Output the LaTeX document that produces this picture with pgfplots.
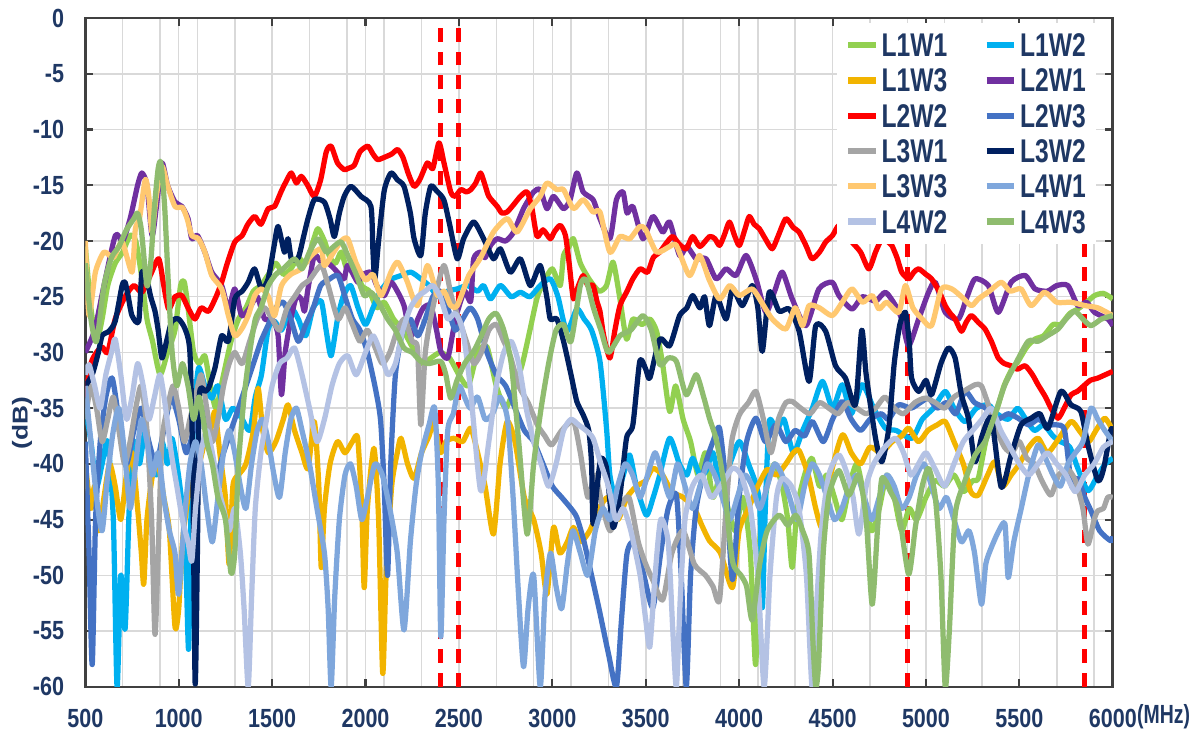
\documentclass[border=0pt]{standalone}
\usepackage{pgfplots}
\pgfplotsset{compat=1.18}
\usepackage{fontspec}
\setmainfont{Liberation Sans}

\definecolor{cLaWa}{HTML}{92D050}
\definecolor{cLaWb}{HTML}{00B0F0}
\definecolor{cLaWc}{HTML}{F2B400}
\definecolor{cLbWa}{HTML}{7030A0}
\definecolor{cLbWb}{HTML}{FF0000}
\definecolor{cLbWc}{HTML}{4472C4}
\definecolor{cLcWa}{HTML}{A5A5A5}
\definecolor{cLcWb}{HTML}{002060}
\definecolor{cLcWc}{HTML}{FFC870}
\definecolor{cLdWa}{HTML}{7FA7DC}
\definecolor{cLdWb}{HTML}{B4C2E4}
\definecolor{cLdWc}{HTML}{8FBC6F}
\definecolor{labc}{HTML}{1F3864}
\definecolor{gridc}{HTML}{D9D9D9}
\definecolor{axc}{HTML}{404040}

\begin{document}
\begin{tikzpicture}
\begin{axis}[
  width=13.75cm, height=8.95cm, scale only axis,
  xmin=500, xmax=6000, ymin=-60, ymax=0,
  xtick={500,1000,...,6000}, minor xtick={700,900,...,5900},
  ytick={-60,-55,...,0},
  grid=both,
  major grid style={draw=gridc, line width=0.6pt},
  minor grid style={draw=gridc, line width=0.6pt},
  axis line style={draw=axc, line width=1pt},
  tick align=inside, major tick length=0.1cm, minor tick length=0pt,
  tick style={draw=axc, line width=0.8pt},
  /pgf/number format/1000 sep={},
  /pgf/number format/assume math mode=true,
  ticklabel style={font=\bfseries\fontsize{10}{11}\selectfont, text=labc},
  xticklabel={\scalebox{0.82}[1]{\pgfmathprintnumber{\tick}}},
  yticklabel={\scalebox{0.82}[1]{\pgfmathprintnumber{\tick}}},
  yticklabel style={xshift=-0.16cm},
  xticklabel style={yshift=-0.18cm},
  xlabel={\scalebox{0.74}[1]{(MHz)}},
  xlabel style={at={(axis description cs:1.0125,-0.044)}, anchor=west, inner xsep=0.147cm, inner ysep=0pt, font=\bfseries\fontsize{10}{11}\selectfont, text=labc},
  ylabel={\scalebox{1}[0.82]{(dB)}},
  ylabel style={at={(axis description cs:-0.0397,0.394)}, anchor=south, inner ysep=0.16cm, inner xsep=0pt, font=\bfseries\fontsize{10}{11}\selectfont, text=labc},
  legend columns=2,
  legend cell align=left,
  legend style={at={(axis description cs:0.9845,0.993)}, anchor=north east, draw=none, fill=white,
    font=\bfseries\fontsize{12.5}{13}\selectfont, text=labc, inner sep=3pt,
    nodes={inner sep=1pt, text depth=0pt}, row sep=0.095cm,
    /tikz/every even column/.append style={column sep=0.45cm}},
  legend image code/.code={\draw[#1, line width=2.4pt, sharp plot] (0cm,0cm) -- (0.37cm,0cm);},
  every axis plot/.append style={line width=2pt, line join=round, smooth, tension=0.4},
]

% band markers
\addplot[forget plot, sharp plot, red, line width=1.9pt, dash pattern=on 5.3pt off 3.8pt] coordinates {(2400,-60) (2400,0)};
\addplot[forget plot, sharp plot, red, line width=1.9pt, dash pattern=on 5.3pt off 3.8pt] coordinates {(2500,-60) (2500,0)};
\addplot[forget plot, sharp plot, red, line width=1.9pt, dash pattern=on 5.3pt off 3.8pt] coordinates {(4900,-60) (4900,0)};
\addplot[forget plot, sharp plot, red, line width=1.9pt, dash pattern=on 5.3pt off 3.8pt] coordinates {(5850,-60) (5850,0)};

% L1W1
\addplot[cLaWa] coordinates {(500,-20.5) (530,-26) (560,-29) (590,-27) (620,-24) (660,-22) (700,-21) (740,-19.5) (770,-20) (800,-23) (830,-27) (860,-29) (900,-32) (940,-30) (980,-28) (1010,-24) (1030,-23.7) (1050,-26) (1080,-30) (1110,-31) (1140,-30.3) (1170,-33) (1200,-35) (1240,-32) (1280,-29) (1320,-27) (1360,-26) (1400,-24.5) (1440,-24) (1480,-23) (1520,-22) (1560,-23) (1600,-22.5) (1640,-21.5) (1680,-22) (1720,-20) (1745,-18.9) (1780,-20) (1810,-21.5) (1840,-22) (1870,-21) (1900,-22.5) (1940,-22) (1980,-24) (2020,-24.5) (2060,-26) (2100,-25.5) (2150,-27) (2200,-28) (2250,-29.5) (2300,-31) (2350,-30.5) (2400,-30) (2450,-30.5) (2500,-32) (2550,-33) (2600,-30) (2650,-29.5) (2700,-33) (2750,-35) (2800,-33) (2840,-31) (2880,-28) (2920,-25) (2960,-23.5) (3000,-22.5) (3042,-24) (3060,-21.3) (3090,-20.5) (3113,-19.8) (3150,-22) (3200,-23.5) (3250,-24.5) (3290,-24) (3325,-21.9) (3360,-25) (3397,-28.8) (3431,-27) (3480,-27.5) (3522,-27) (3558,-28.1) (3590,-31) (3628,-35.3) (3660,-33) (3700,-36) (3740,-38) (3780,-41) (3820,-39) (3860,-43) (3900,-41) (3940,-44) (3980,-46) (4020,-43) (4060,-48) (4088,-58) (4110,-47) (4150,-42) (4190,-40) (4230,-42) (4260,-45) (4284,-49.3) (4310,-44) (4350,-41) (4390,-39.5) (4430,-42) (4470,-41) (4510,-43) (4550,-45) (4590,-42) (4630,-40) (4670,-43) (4710,-46) (4750,-44) (4790,-41) (4830,-43) (4870,-46) (4910,-44) (4950,-45) (5000,-43) (5050,-41.5) (5100,-42) (5150,-41) (5200,-42.5) (5250,-41.5) (5280,-41.3) (5320,-38) (5360,-36) (5387,-34.7) (5420,-32.9) (5460,-31.5) (5493,-30.8) (5540,-29.5) (5584,-28.8) (5630,-28.5) (5680,-27.5) (5720,-27.5) (5770,-26.5) (5813,-26.1) (5860,-25.5) (5902,-24.9) (5950,-24.7) (6000,-25.2)};
\addlegendentry{\scalebox{0.75}[1]{L1W1}}

% L1W2
\addplot[cLaWb] coordinates {(500,-35) (530,-38) (560,-42) (590,-40) (620,-38) (650,-45) (670,-60) (690,-50) (713,-54.8) (735,-44) (760,-38) (790,-40) (820,-37) (850,-39) (880,-41) (910,-38) (940,-40) (963,-37.7) (990,-40) (1020,-44) (1040,-50) (1053,-56.6) (1065,-45) (1080,-36) (1106,-31.4) (1140,-33) (1177,-34.1) (1210,-33) (1250,-36) (1290,-35) (1337,-35.9) (1380,-37) (1410,-34) (1443,-32) (1479,-27.9) (1513,-27.2) (1550,-28) (1603,-26.1) (1640,-27) (1680,-28.5) (1720,-26) (1763,-25.4) (1790,-28.1) (1816,-30.3) (1850,-27) (1880,-25) (1920,-24) (1960,-26) (2000,-27.5) (2040,-26) (2080,-24.5) (2130,-23.5) (2190,-23.1) (2243,-22.8) (2296,-23.4) (2340,-24) (2390,-25) (2440,-24.5) (2491,-24.3) (2545,-24) (2600,-24.5) (2632,-24) (2669,-25.2) (2722,-24) (2780,-25) (2829,-24.6) (2880,-25) (2935,-24) (2989,-23.4) (3030,-25) (3077,-28.1) (3131,-26.1) (3170,-27) (3210,-28) (3255,-30.8) (3290,-36.8) (3308,-41) (3340,-43) (3380,-41) (3414,-39.2) (3450,-42) (3503,-44.6) (3540,-43) (3575,-41) (3628,-37.7) (3680,-40) (3720,-41) (3751,-39.5) (3790,-41) (3824,-40.6) (3860,-39) (3900,-42) (3950,-40) (4001,-38) (4050,-40) (4108,-43.3) (4124,-52.9) (4140,-44) (4161,-36.2) (4200,-37) (4240,-36) (4290,-39) (4340,-37) (4392,-35) (4446,-32.6) (4500,-35) (4552,-32.9) (4600,-35.5) (4659,-32.9) (4720,-35) (4783,-36.8) (4840,-37) (4925,-37.7) (4980,-36) (5040,-35) (5103,-33.5) (5150,-35) (5209,-36.2) (5270,-35) (5334,-34.7) (5380,-35.5) (5440,-36) (5490,-35) (5531,-35.9) (5580,-37) (5630,-36.5) (5680,-37.5) (5720,-38) (5770,-38.5) (5813,-40.4) (5867,-42.4) (5920,-41) (5960,-40) (6000,-39.5)};
\addlegendentry{\scalebox{0.75}[1]{L1W2}}

% L1W3
\addplot[cLaWc] coordinates {(500,-40) (530,-44) (550,-42) (573,-46) (600,-43) (630,-40) (660,-42) (690,-45) (720,-41) (750,-39) (780,-44) (800,-48) (813,-50.8) (830,-45) (860,-41) (890,-40) (920,-43) (950,-46) (980,-54.6) (1000,-53) (1020,-47) (1050,-43) (1080,-41) (1110,-40) (1140,-38) (1170,-37) (1194,-35.3) (1220,-39) (1250,-43) (1270,-49) (1290,-42) (1320,-41) (1360,-40) (1400,-37) (1425,-33.2) (1450,-37) (1480,-39) (1520,-38) (1560,-36) (1585,-34.7) (1620,-37) (1660,-39) (1692,-40.4) (1726,-36.2) (1750,-42) (1763,-49.3) (1780,-44) (1810,-40) (1850,-38) (1890,-39) (1930,-38) (1958,-37.7) (1980,-44) (1993,-51.1) (2010,-44) (2045,-38.6) (2070,-45) (2092,-58.8) (2110,-50) (2140,-42) (2170,-39) (2190,-37.7) (2225,-40) (2260,-41.3) (2300,-39) (2340,-37.5) (2367,-36.2) (2400,-39) (2430,-38) (2472,-37.7) (2520,-38) (2563,-36.8) (2600,-39) (2640,-42) (2685,-46.3) (2720,-40) (2758,-36.2) (2800,-38) (2850,-43) (2900,-45) (2940,-48) (2971,-51.7) (3006,-45.7) (3040,-48) (3080,-47) (3113,-45.7) (3150,-47) (3200,-46) (3250,-44) (3300,-43) (3350,-45) (3400,-43) (3450,-42) (3500,-41.5) (3538,-40.4) (3590,-41) (3640,-42.5) (3700,-43) (3760,-44) (3800,-45.5) (3841,-46.9) (3900,-48) (3964,-51.1) (4000,-46) (4050,-44) (4100,-42) (4150,-40.5) (4200,-41) (4250,-40) (4290,-39) (4321,-38.8) (4370,-41) (4410,-44) (4446,-45.7) (4490,-41) (4552,-37.4) (4600,-39) (4650,-40) (4700,-38.5) (4760,-39) (4820,-38) (4870,-37.5) (4907,-36.8) (4960,-38) (5010,-37) (5060,-36.5) (5103,-36.2) (5150,-38) (5200,-40) (5240,-42.5) (5280,-42.8) (5330,-41) (5369,-39.8) (5410,-42) (5456,-41) (5500,-40) (5550,-38.5) (5600,-37.7) (5650,-39) (5700,-38) (5776,-36.2) (5820,-37) (5870,-38) (5910,-37) (5957,-35.9) (6000,-37)};
\addlegendentry{\scalebox{0.75}[1]{L1W3}}

% L2W1
\addplot[cLbWa] coordinates {(500,-30) (550,-28) (600,-24) (661,-19.5) (700,-20) (740,-18) (780,-15) (803,-13.9) (830,-15) (857,-19.5) (880,-17) (910,-13) (940,-15) (980,-16.5) (1017,-16.9) (1050,-18) (1070,-19.8) (1100,-19.5) (1140,-21) (1177,-22.8) (1230,-24) (1266,-26.1) (1300,-24.3) (1337,-26.7) (1380,-26) (1420,-25) (1460,-27) (1500,-27) (1532,-28.5) (1550,-33.8) (1570,-30) (1600,-27) (1630,-25) (1656,-25.2) (1673,-26.3) (1692,-24.3) (1726,-21.3) (1763,-21.9) (1800,-22) (1833,-22.5) (1860,-23) (1886,-23.4) (1905,-22.2) (1958,-23.7) (1976,-23.1) (2029,-22.8) (2060,-24) (2100,-24.9) (2136,-23.7) (2170,-24.5) (2206,-25.8) (2243,-28.5) (2280,-27) (2310,-26) (2349,-25.8) (2380,-28) (2403,-29.9) (2440,-30.5) (2470,-28) (2491,-26.4) (2530,-24.5) (2563,-25.4) (2579,-21.6) (2616,-21) (2640,-21.5) (2669,-20.4) (2705,-19.8) (2750,-20) (2793,-19.2) (2846,-17.1) (2900,-15.6) (2935,-15.4) (2971,-17.1) (3006,-16) (3060,-17.1) (3095,-16.3) (3131,-13.9) (3165,-15.6) (3218,-16.3) (3255,-18) (3308,-19.8) (3343,-16.3) (3378,-15.6) (3400,-17.5) (3431,-16.9) (3485,-19.8) (3538,-17.8) (3591,-19.2) (3628,-18.3) (3681,-21.3) (3720,-20.5) (3770,-21.6) (3823,-21.6) (3877,-23.4) (3930,-22.5) (3983,-23.1) (4037,-21.3) (4090,-23.4) (4143,-26.4) (4190,-24.5) (4231,-22.8) (4284,-25.2) (4357,-27.6) (4427,-24.3) (4498,-23.7) (4534,-24.9) (4604,-26.1) (4660,-25) (4730,-25.4) (4783,-24.6) (4837,-25.8) (4870,-27) (4907,-29.4) (4961,-27) (5014,-24.6) (5050,-23.7) (5103,-26.4) (5174,-27) (5220,-25) (5263,-23.4) (5334,-24) (5387,-26.4) (5456,-23.7) (5531,-23.1) (5584,-24.3) (5650,-24.5) (5700,-24) (5760,-24) (5813,-25.8) (5860,-25.5) (5902,-26.4) (5973,-27) (6000,-27.6)};
\addlegendentry{\scalebox{0.75}[1]{L2W1}}

% L2W2
\addplot[cLbWb] coordinates {(500,-34) (530,-31) (560,-30) (590,-29.5) (620,-30) (660,-27) (713,-25) (760,-24) (803,-24.6) (850,-23) (893,-21.6) (920,-24) (946,-26.1) (980,-25) (1017,-24.9) (1050,-26) (1087,-27) (1120,-26) (1160,-26.3) (1200,-25) (1230,-23.7) (1260,-22) (1300,-20.1) (1340,-19.5) (1370,-18.5) (1407,-17.8) (1440,-18.5) (1479,-17.1) (1513,-16.9) (1550,-15.5) (1580,-14.5) (1603,-13.9) (1630,-14.8) (1656,-14.2) (1690,-15) (1726,-16) (1760,-14.5) (1790,-12) (1816,-11.5) (1850,-13) (1886,-13.6) (1905,-13.5) (1940,-13.2) (1970,-12) (2012,-11.5) (2040,-12.2) (2065,-12.7) (2100,-12.5) (2140,-12.2) (2172,-11.8) (2200,-12.5) (2230,-14) (2260,-15.1) (2290,-14.5) (2331,-13) (2360,-13.5) (2393,-11.2) (2420,-13) (2456,-15.6) (2480,-16) (2510,-15.4) (2540,-15.6) (2563,-15.4) (2590,-14.8) (2616,-13.9) (2640,-15) (2660,-16) (2705,-16.9) (2730,-17.5) (2758,-17.4) (2790,-16.8) (2829,-16) (2865,-15.6) (2890,-17) (2918,-19.6) (2950,-19) (2989,-19.8) (3010,-19.2) (3042,-18.6) (3070,-19.5) (3090,-22) (3113,-25.2) (3140,-24) (3165,-23.1) (3190,-24) (3218,-24) (3240,-25.5) (3255,-26.3) (3275,-28.5) (3308,-30.5) (3335,-28) (3362,-25.8) (3400,-24.5) (3431,-23.4) (3470,-22.5) (3510,-22.8) (3540,-21.5) (3575,-21) (3610,-20.2) (3644,-19.6) (3680,-20.3) (3717,-20.7) (3751,-19.6) (3790,-20.5) (3841,-19.6) (3870,-19.8) (3895,-20.4) (3920,-19.5) (3948,-18.3) (3975,-19.5) (4001,-20.4) (4030,-19) (4054,-17.8) (4080,-18.5) (4108,-18.9) (4140,-19.8) (4177,-20.7) (4210,-19.5) (4250,-18) (4290,-18.8) (4321,-19.2) (4360,-20.5) (4390,-21.6) (4430,-21) (4463,-20.1) (4500,-19.5) (4534,-18.6) (4570,-19.3) (4604,-20.1) (4650,-21) (4694,-22.5) (4730,-21) (4764,-19.8) (4790,-20) (4817,-20.4) (4845,-21.5) (4870,-22.8) (4907,-23.4) (4935,-22.8) (4961,-22.5) (5000,-23) (5030,-23.4) (5070,-24.5) (5103,-25.8) (5130,-26.5) (5156,-27) (5190,-28.1) (5215,-27.3) (5243,-26.7) (5280,-27.3) (5316,-27.9) (5350,-29) (5387,-30.5) (5420,-31) (5456,-31.2) (5490,-31.5) (5531,-31.2) (5570,-32) (5600,-32.9) (5640,-34) (5669,-35) (5707,-35.9) (5740,-35) (5776,-33.8) (5810,-33.5) (5851,-32.9) (5880,-32.5) (5920,-32.3) (5960,-32) (6000,-31.7)};
\addlegendentry{\scalebox{0.75}[1]{L2W2}}

% L2W3
\addplot[cLbWc] coordinates {(500,-38) (520,-48) (537,-58) (555,-45) (580,-38) (610,-34) (644,-32.3) (680,-36) (720,-40) (760,-37) (800,-35) (840,-38) (880,-40) (920,-37) (960,-34) (1000,-36) (1040,-39) (1080,-37) (1120,-35) (1160,-38) (1200,-41) (1240,-39) (1280,-37) (1320,-35) (1360,-33) (1400,-31) (1440,-29) (1480,-27.5) (1520,-26) (1560,-25.5) (1600,-27) (1640,-29) (1680,-27.5) (1720,-26) (1760,-24) (1800,-23.5) (1852,-23.1) (1890,-25) (1930,-27) (1970,-28) (2010,-30) (2050,-33) (2080,-36) (2100,-42) (2118,-50) (2135,-40) (2160,-32) (2200,-28) (2240,-27) (2280,-28.5) (2320,-27) (2360,-25) (2400,-24.5) (2440,-26) (2480,-28) (2520,-27) (2560,-26) (2600,-27) (2650,-30) (2700,-32) (2750,-33) (2800,-35) (2850,-37) (2900,-38) (2950,-40) (3000,-42) (3050,-43) (3100,-44) (3131,-44.8) (3170,-47) (3210,-50) (3250,-53) (3300,-57) (3343,-60) (3370,-54) (3400,-48) (3440,-47) (3490,-50) (3538,-52.9) (3580,-48) (3620,-44) (3664,-42.8) (3690,-50) (3717,-60) (3740,-50) (3770,-44) (3820,-40) (3860,-38) (3895,-36.8) (3930,-42) (3964,-50.4) (4000,-43) (4040,-38) (4090,-35.9) (4140,-38) (4197,-36.5) (4250,-38) (4300,-37) (4350,-37.5) (4392,-36.2) (4450,-38) (4500,-36) (4552,-34.4) (4600,-36) (4650,-37) (4700,-36) (4760,-35.5) (4800,-36) (4854,-34.7) (4920,-35) (4970,-34.5) (5014,-34.1) (5060,-35) (5110,-34.5) (5160,-35.5) (5209,-33.5) (5260,-34.5) (5320,-35) (5380,-36) (5440,-35.5) (5493,-35.9) (5550,-36.5) (5600,-36) (5650,-36.5) (5700,-36.5) (5742,-37) (5780,-42) (5813,-41.3) (5850,-43) (5883,-44.2) (5930,-46) (5989,-46.9) (6000,-46.5)};
\addlegendentry{\scalebox{0.75}[1]{L2W3}}

% L3W1
\addplot[cLcWa] coordinates {(500,-36) (530,-33) (560,-35) (590,-38) (620,-36) (650,-34) (680,-37) (710,-40) (740,-38) (770,-35) (800,-33) (830,-37) (855,-45) (873,-55.3) (890,-48) (910,-38) (940,-35) (970,-33) (1000,-35) (1030,-38) (1060,-36) (1090,-34) (1120,-32) (1150,-35) (1180,-38) (1210,-36) (1240,-33) (1270,-31) (1300,-30) (1340,-31) (1380,-29) (1420,-27) (1460,-26) (1500,-27) (1540,-28) (1580,-26) (1620,-25) (1660,-24) (1700,-23.5) (1763,-22.2) (1800,-24) (1852,-27) (1890,-26) (1930,-27.5) (1970,-29) (2010,-28) (2050,-29.5) (2090,-31) (2130,-30) (2170,-28) (2210,-27) (2250,-29) (2278,-29.6) (2296,-36.5) (2320,-30) (2360,-26) (2419,-22.2) (2460,-25) (2500,-27) (2540,-29) (2580,-31) (2620,-30) (2660,-28) (2700,-27.5) (2740,-29) (2775,-30.3) (2820,-33) (2870,-34.5) (2920,-36.5) (2960,-37.5) (2996,-38.3) (3050,-37) (3113,-36.2) (3150,-39) (3190,-43) (3230,-41) (3270,-44) (3310,-46) (3360,-44) (3410,-43) (3460,-47) (3500,-49) (3540,-50.5) (3591,-52.2) (3640,-48) (3700,-46) (3760,-49) (3820,-50) (3860,-51) (3895,-52.2) (3930,-44) (3960,-38) (4001,-35.6) (4050,-34.5) (4090,-33.5) (4130,-36) (4170,-39) (4210,-36) (4250,-34.5) (4284,-34.4) (4330,-35) (4380,-35.5) (4430,-34.5) (4480,-35) (4530,-35.5) (4580,-34.5) (4630,-35) (4680,-35.5) (4730,-35) (4780,-34) (4830,-35) (4880,-35.5) (4940,-34.5) (4996,-34.1) (5050,-34.5) (5100,-35) (5150,-34) (5200,-33.5) (5263,-32.9) (5297,-33) (5340,-35) (5380,-37) (5420,-38.5) (5460,-39) (5500,-38) (5540,-39.5) (5580,-40) (5620,-41.5) (5669,-42.8) (5710,-41) (5760,-40.5) (5800,-41.5) (5840,-44) (5867,-47.2) (5900,-45) (5920,-44.2) (5950,-44) (5973,-43) (6000,-43)};
\addlegendentry{\scalebox{0.75}[1]{L3W1}}

% L3W2
\addplot[cLcWb] coordinates {(500,-33) (537,-32) (570,-30) (590,-28.5) (626,-28.1) (660,-27.2) (697,-24) (713,-23.7) (730,-25) (750,-26.7) (786,-27.2) (803,-22.8) (830,-23.5) (850,-25) (873,-26.3) (890,-28) (910,-30.5) (935,-29) (963,-27.2) (999,-27) (1034,-27.9) (1060,-30) (1075,-40) (1088,-59.7) (1100,-48) (1110,-34) (1140,-33.5) (1160,-33.2) (1194,-31.4) (1230,-28.5) (1266,-29) (1300,-25.2) (1340,-24.5) (1372,-23.7) (1406,-22.5) (1443,-24.3) (1479,-23.4) (1510,-20.5) (1532,-18.7) (1566,-21) (1585,-19.8) (1603,-21.6) (1640,-21.5) (1670,-19.5) (1692,-18) (1726,-16.3) (1779,-16.5) (1810,-18) (1833,-19.6) (1860,-17.5) (1886,-16) (1922,-15.1) (1976,-16) (2029,-16.9) (2040,-21) (2050,-23.4) (2070,-20) (2100,-15.5) (2136,-13.9) (2170,-14.5) (2206,-15.1) (2240,-17.5) (2260,-19.8) (2296,-21.3) (2320,-17.5) (2349,-15.1) (2380,-15.5) (2419,-16.3) (2450,-18.5) (2491,-21.6) (2525,-19.8) (2579,-18.3) (2632,-19.8) (2685,-21.6) (2722,-20.7) (2775,-22.8) (2829,-21.6) (2882,-24) (2935,-22.2) (2970,-25) (2989,-27) (3024,-27) (3060,-29) (3100,-32) (3131,-34.4) (3165,-35.6) (3195,-37) (3210,-40) (3218,-45.4) (3240,-42) (3260,-39.5) (3290,-40.4) (3325,-45.7) (3362,-42.8) (3397,-37.7) (3431,-36.5) (3468,-30.8) (3500,-31.5) (3522,-32.3) (3575,-28.8) (3628,-29.4) (3681,-26.7) (3720,-26) (3751,-24.9) (3790,-26) (3815,-25) (3841,-27.6) (3877,-24.9) (3930,-27) (3964,-24.3) (4017,-25.8) (4070,-24) (4100,-26) (4124,-29.9) (4161,-24.6) (4214,-26.3) (4268,-26.1) (4321,-28.1) (4374,-32.6) (4410,-27.6) (4463,-28.1) (4516,-31.2) (4569,-32.3) (4622,-34.7) (4656,-28) (4680,-32) (4730,-37.7) (4764,-39.8) (4801,-36.8) (4830,-31) (4860,-27.5) (4890,-26.4) (4910,-29) (4923,-32.3) (4961,-33.5) (5000,-32.5) (5030,-33.8) (5080,-31) (5120,-29.6) (5156,-30.5) (5190,-33.8) (5227,-35.9) (5263,-39.8) (5300,-37.5) (5350,-35.9) (5403,-42.1) (5456,-39.2) (5509,-36.5) (5563,-35.9) (5610,-35.5) (5653,-36.8) (5722,-33.5) (5776,-34.7) (5829,-35.3) (5867,-38.3) (5920,-41.5) (5950,-40.5) (5989,-37) (6000,-37)};
\addlegendentry{\scalebox{0.75}[1]{L3W2}}

% L3W3
\addplot[cLcWc] coordinates {(500,-20) (520,-26.7) (554,-22.8) (600,-21) (650,-21.5) (697,-20.1) (750,-22.8) (768,-18.9) (790,-18) (821,-14.5) (840,-16) (857,-19.2) (880,-16) (910,-13.3) (940,-15) (980,-16.9) (1020,-17) (1045,-18) (1070,-19.5) (1106,-19.8) (1140,-21) (1177,-23.1) (1230,-24.3) (1266,-26.7) (1300,-28.5) (1337,-27.9) (1372,-26.7) (1407,-24.9) (1443,-24.3) (1480,-25) (1513,-26.7) (1550,-24) (1600,-23) (1656,-22.5) (1710,-21.3) (1763,-20.7) (1780,-22.2) (1830,-21) (1870,-20) (1905,-19.8) (1950,-22) (2000,-23.5) (2040,-23) (2083,-24.9) (2136,-22.8) (2172,-21.9) (2220,-23.5) (2278,-25.8) (2331,-22.2) (2385,-24.9) (2420,-24.5) (2456,-25.8) (2491,-25.8) (2545,-23.4) (2563,-22.8) (2616,-21.5) (2685,-19.2) (2758,-18) (2811,-19.2) (2882,-17.1) (2935,-16) (2971,-14.8) (3024,-15.4) (3060,-15.4) (3113,-17.1) (3165,-16.3) (3218,-17.4) (3255,-17.4) (3308,-21) (3362,-19.6) (3414,-19.8) (3468,-18.7) (3500,-19) (3558,-21) (3628,-20.5) (3664,-20.4) (3734,-23.1) (3788,-21.3) (3840,-23.5) (3895,-25.2) (3950,-24) (4001,-24.9) (4070,-24.3) (4120,-25.5) (4177,-27) (4250,-27.9) (4300,-26) (4339,-27.6) (4374,-25.8) (4430,-26) (4498,-26.7) (4552,-25.5) (4604,-24.3) (4660,-25.5) (4712,-24.9) (4748,-26.1) (4790,-25.5) (4854,-26.4) (4890,-24) (4930,-26) (4980,-27) (5030,-27.6) (5083,-24.3) (5138,-24.3) (5190,-25) (5243,-25.8) (5280,-25.2) (5340,-24.5) (5403,-23.7) (5450,-24.5) (5509,-24.3) (5563,-25.8) (5634,-24.6) (5700,-25.5) (5776,-25.5) (5851,-25.8) (5920,-26) (6000,-26.7)};
\addlegendentry{\scalebox{0.75}[1]{L3W3}}

% L4W1
\addplot[cLdWa] coordinates {(500,-33) (530,-38) (560,-43) (590,-46) (620,-41) (650,-37) (680,-35) (710,-39) (740,-44) (770,-40) (800,-36) (830,-38) (860,-41) (890,-39) (920,-43) (950,-46) (980,-48) (1000,-51.7) (1030,-45) (1060,-40) (1090,-38) (1120,-40) (1150,-44) (1180,-47) (1210,-43) (1240,-39) (1270,-37) (1300,-39) (1330,-42) (1360,-44) (1390,-40) (1420,-37) (1450,-36) (1480,-38) (1510,-41) (1540,-43) (1570,-39) (1600,-36) (1630,-35) (1660,-37) (1700,-40) (1740,-44) (1780,-48) (1800,-53) (1816,-60) (1835,-52) (1860,-45) (1890,-41) (1920,-40) (1950,-42) (1980,-45) (2010,-43) (2050,-40) (2090,-41) (2130,-44) (2170,-48) (2206,-54.9) (2240,-47) (2270,-42) (2300,-39) (2340,-36.5) (2370,-35) (2390,-42) (2403,-55.5) (2420,-45) (2440,-37) (2470,-35.5) (2500,-33) (2530,-34) (2560,-35) (2600,-34) (2640,-36) (2680,-35.5) (2720,-34) (2760,-36) (2790,-43) (2820,-52) (2846,-58.2) (2870,-53) (2900,-50) (2935,-60) (2960,-52) (2990,-48) (3020,-51) (3050,-53) (3080,-49) (3110,-46) (3150,-48) (3190,-50) (3230,-46) (3270,-44) (3310,-45) (3350,-42) (3390,-40) (3430,-41) (3470,-43) (3510,-41) (3550,-39) (3590,-41) (3630,-43) (3670,-40) (3710,-42) (3750,-44) (3790,-42) (3830,-40) (3870,-41) (3910,-43) (3950,-45) (3990,-43) (4030,-41) (4070,-42) (4110,-44) (4150,-42) (4190,-40) (4230,-41) (4270,-43) (4310,-45) (4350,-42) (4390,-40) (4430,-41) (4470,-43) (4510,-45) (4550,-44) (4590,-42) (4630,-41) (4670,-43) (4710,-45) (4750,-43) (4790,-41) (4830,-42) (4870,-44) (4910,-43) (4950,-41) (4990,-40) (5030,-42) (5070,-44) (5110,-43) (5150,-45) (5190,-47) (5230,-46) (5260,-48) (5297,-52.6) (5320,-49) (5350,-47.5) (5390,-46) (5423,-45.4) (5440,-50.2) (5470,-47) (5510,-44) (5550,-41) (5600,-38.3) (5640,-39.5) (5680,-41) (5720,-42) (5760,-40) (5800,-39) (5840,-38) (5883,-35) (5920,-36) (5957,-37) (6000,-38)};
\addlegendentry{\scalebox{0.75}[1]{L4W1}}

% L4W2
\addplot[cLdWb] coordinates {(500,-32) (520,-31.1) (550,-33) (580,-35) (610,-32) (640,-30) (660,-28.8) (690,-32) (720,-36) (750,-34) (780,-31) (810,-33) (840,-36) (870,-34) (900,-32) (930,-35) (960,-39) (990,-42) (1020,-45) (1050,-47) (1070,-48.7) (1090,-44) (1120,-39) (1150,-37) (1180,-39) (1210,-42) (1240,-44) (1270,-46) (1300,-44) (1330,-48) (1350,-53) (1372,-60) (1390,-52) (1410,-44) (1440,-39) (1470,-36) (1500,-33) (1540,-31) (1580,-30.5) (1620,-29.6) (1660,-32) (1700,-35) (1740,-38) (1780,-36) (1820,-33) (1860,-31) (1905,-30.3) (1950,-32) (2000,-30) (2040,-28.5) (2080,-30) (2120,-32) (2160,-31) (2200,-28) (2240,-26) (2280,-25) (2320,-24.5) (2360,-24) (2400,-25) (2440,-27) (2480,-26.5) (2520,-28) (2560,-33) (2616,-42.4) (2660,-38) (2700,-33) (2740,-30) (2780,-29) (2820,-31) (2860,-35) (2900,-38) (2940,-40) (2980,-42) (3020,-40) (3060,-37) (3100,-36) (3140,-36.5) (3180,-37) (3218,-37.7) (3260,-40) (3300,-42) (3340,-45) (3380,-44) (3420,-46) (3470,-50) (3500,-54) (3522,-56.4) (3550,-50) (3580,-45) (3620,-47) (3645,-55) (3664,-60) (3685,-52) (3710,-45) (3750,-42) (3800,-41) (3850,-43) (3900,-42) (3964,-40.4) (4010,-41) (4060,-44) (4100,-50) (4134,-60) (4165,-50) (4200,-43) (4231,-41.3) (4280,-42) (4320,-44) (4360,-50) (4390,-60) (4410,-54) (4440,-46) (4480,-41) (4534,-39.2) (4580,-41) (4610,-43) (4641,-46.3) (4680,-42) (4720,-40) (4780,-38.5) (4837,-37.7) (4880,-39) (4920,-41) (4960,-40) (5000,-39) (5050,-40.5) (5100,-42) (5150,-40) (5200,-38) (5250,-37) (5300,-36) (5350,-35) (5400,-37) (5450,-38.5) (5500,-40) (5550,-41) (5600,-40) (5650,-39) (5700,-40) (5750,-41) (5800,-42.5) (5850,-41) (5900,-40) (5950,-38.5) (6000,-38)};
\addlegendentry{\scalebox{0.75}[1]{L4W2}}

% L4W3
\addplot[cLdWc] coordinates {(500,-22) (530,-27) (560,-29) (600,-24) (640,-21.5) (680,-20.5) (720,-19) (760,-18) (780,-17.5) (800,-19) (830,-24) (850,-22) (870,-17) (890,-13.5) (905,-13) (925,-17) (945,-24) (965,-30) (990,-33) (1020,-31) (1050,-33) (1080,-36) (1110,-34) (1150,-38) (1180,-40) (1210,-43) (1250,-45) (1280,-49.8) (1300,-48) (1320,-40) (1350,-34) (1380,-30) (1410,-27) (1440,-26) (1480,-24) (1520,-23) (1560,-22.5) (1620,-21.6) (1660,-22.5) (1700,-21) (1745,-19.8) (1790,-21) (1830,-20.5) (1870,-20.1) (1910,-21.5) (1950,-23) (1993,-24.9) (2029,-24.6) (2070,-25.5) (2118,-27) (2160,-28) (2206,-29.6) (2250,-30) (2296,-30.8) (2340,-31) (2403,-30.8) (2430,-32) (2456,-34.1) (2490,-32.5) (2530,-31) (2579,-29.9) (2620,-28.5) (2660,-27) (2700,-26.5) (2740,-28) (2780,-31) (2820,-38) (2865,-46.3) (2900,-40) (2940,-35) (2980,-31) (3020,-28) (3060,-27.5) (3100,-29) (3150,-24) (3180,-23.5) (3220,-26) (3260,-28) (3300,-30) (3362,-28.5) (3420,-28) (3485,-26.7) (3530,-28) (3575,-31.1) (3620,-30.5) (3664,-30.8) (3717,-33.8) (3770,-32) (3810,-34) (3841,-35.9) (3880,-38) (3920,-42) (3964,-48.7) (4010,-50) (4040,-51) (4070,-54) (4110,-49) (4150,-46) (4214,-44.6) (4260,-45.5) (4303,-44.6) (4340,-46) (4374,-48.1) (4395,-56) (4410,-60) (4425,-58) (4450,-48) (4481,-42.8) (4534,-40.6) (4587,-42.8) (4641,-41) (4680,-45) (4712,-52.6) (4740,-46) (4764,-41.3) (4810,-42.5) (4854,-44.2) (4907,-49.9) (4943,-45.7) (4980,-42) (5014,-40.4) (5050,-43) (5080,-50) (5103,-60) (5125,-55) (5156,-44.6) (5209,-41.5) (5263,-39.2) (5316,-38) (5369,-35.6) (5420,-33) (5477,-31.1) (5547,-29) (5600,-29) (5650,-28.5) (5707,-27.9) (5750,-27) (5797,-26.3) (5840,-27) (5883,-27.6) (5940,-27) (6000,-26.7)};
\addlegendentry{\scalebox{0.75}[1]{L4W3}}

\end{axis}
\end{tikzpicture}
\end{document}
